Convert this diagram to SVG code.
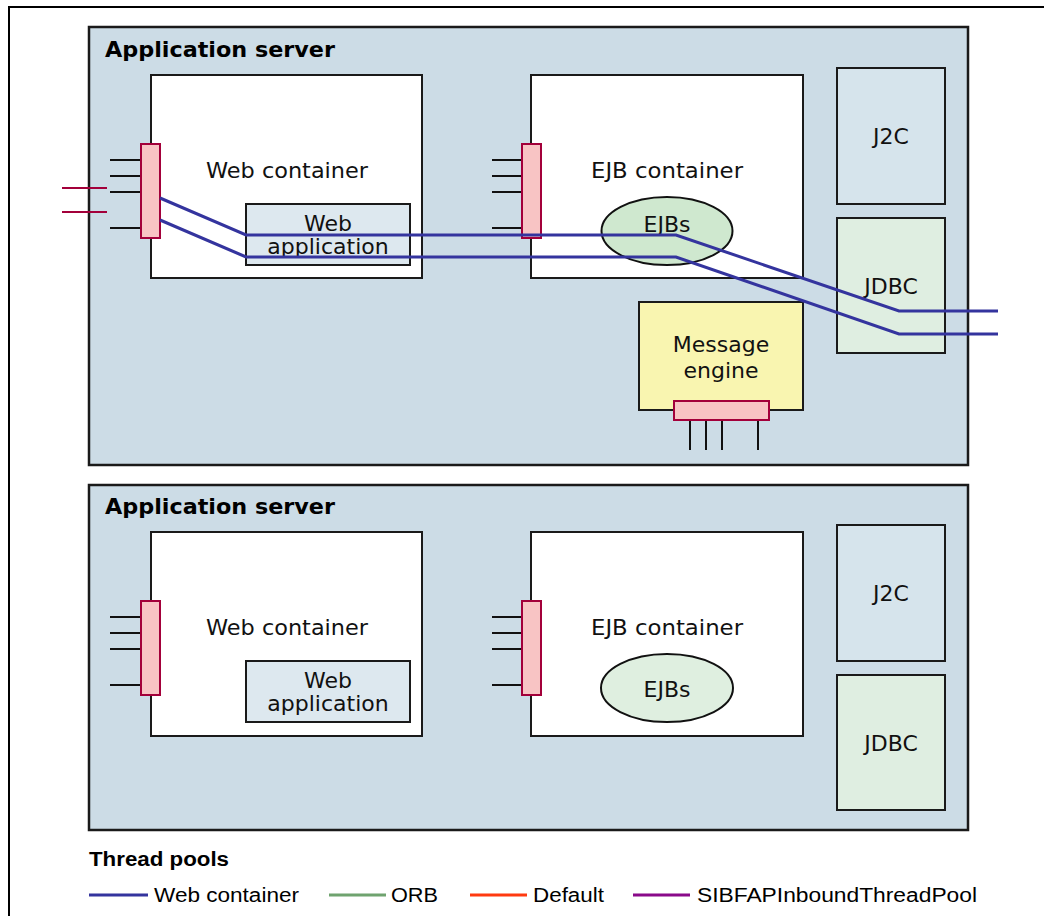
<svg xmlns="http://www.w3.org/2000/svg" width="1044" height="916" viewBox="0 0 1044 916">
<style>
.srv{fill:#ccdce6;stroke:#1a1a1a;stroke-width:2.5}
.cont{fill:#ffffff;stroke:#1a1a1a;stroke-width:2}
.j2c{fill:#d6e4ec;stroke:#1a1a1a;stroke-width:2}
.jdbc{fill:#dfeee1;stroke:#1a1a1a;stroke-width:2}
.webapp{fill:#dde8ef;stroke:#1a1a1a;stroke-width:2}
.me{fill:#f9f5b0;stroke:#1a1a1a;stroke-width:2}
.port{fill:#f8c4c4;stroke:#a3003a;stroke-width:2}
.stub{stroke:#111111;stroke-width:2;fill:none}
.inb{stroke:#a3003a;stroke-width:2;fill:none}
.wc{stroke:#34349e;stroke-width:3;fill:none}
.t{font-family:"DejaVu Sans",Verdana,sans-serif;font-size:22px;fill:#111111;text-anchor:middle}
.title{font-family:"DejaVu Sans",Verdana,sans-serif;font-size:21px;font-weight:bold;fill:#000000}
.lt{font-family:"Liberation Sans",Arial,sans-serif;font-size:20px;fill:#000000}
.lb{font-family:"Liberation Sans",Arial,sans-serif;font-size:20px;font-weight:bold;fill:#000000}
</style>
<path d="M9,916 V7 H1044" fill="none" stroke="#000" stroke-width="2"/>

<g id="server1">
<rect class="srv" x="89" y="27" width="879" height="438"/>
<text class="title" x="105" y="57" textLength="230" lengthAdjust="spacingAndGlyphs">Application server</text>
</g>
<g id="webcontainer1">
<rect class="cont" x="151" y="75" width="271" height="203"/>
<text class="t" x="287" y="178" textLength="162" lengthAdjust="spacingAndGlyphs">Web container</text>
</g>
<g id="webapp1">
<rect class="webapp" x="246" y="204" width="164" height="61"/>
<text class="t" x="328" y="231">Web</text>
<text class="t" x="328" y="254">application</text>
</g>
<g id="ejbcontainer1">
<rect class="cont" x="531" y="75" width="272" height="203"/>
<text class="t" x="667" y="178" textLength="152" lengthAdjust="spacingAndGlyphs">EJB container</text>
</g>
<g id="ejbs1">
<ellipse cx="667" cy="231" rx="65.5" ry="34" fill="#cfe8cf" stroke="#111" stroke-width="2"/>
<text class="t" x="667" y="232">EJBs</text>
</g>
<g id="j2c1">
<rect class="j2c" x="837" y="68" width="108" height="136"/>
<text class="t" x="891" y="144">J2C</text>
</g>
<g id="jdbc1">
<rect class="jdbc" x="837" y="218" width="108" height="135"/>
<text class="t" x="891" y="294">JDBC</text>
</g>
<g id="msgengine">
<rect class="me" x="639" y="302" width="164" height="108"/>
<text class="t" x="721" y="352">Message</text>
<text class="t" x="721" y="378">engine</text>
</g>
<g id="webport1">
<path class="stub" d="M110,160H141M110,176H141M110,192H141M110,228H141"/>
<path class="inb" d="M62,188H107M62,212H107"/>
<rect class="port" x="141" y="144" width="19" height="94"/>
</g>
<g id="ejbport1">
<path class="stub" d="M492,160H522M492,176H522M492,192H522M492,228H522"/>
<rect class="port" x="522" y="144" width="19" height="94"/>
</g>
<g id="meport">
<path class="stub" d="M690,420V450M706,420V450M722,420V450M758,420V450"/>
<rect class="port" x="674" y="401" width="95" height="19"/>
</g>

<g id="connectors">
<polyline class="wc" points="160,198 246,235 676,235 899,311 998,311"/>
<polyline class="wc" points="160,220 246,257 676,257 899,334 998,334"/>
</g>

<g id="server2">
<rect class="srv" x="89" y="485" width="879" height="345"/>
<text class="title" x="105" y="514" textLength="230" lengthAdjust="spacingAndGlyphs">Application server</text>
</g>
<g id="webcontainer2">
<rect class="cont" x="151" y="532" width="271" height="204"/>
<text class="t" x="287" y="635" textLength="162" lengthAdjust="spacingAndGlyphs">Web container</text>
</g>
<g id="webapp2">
<rect class="webapp" x="246" y="661" width="164" height="61"/>
<text class="t" x="328" y="688">Web</text>
<text class="t" x="328" y="711">application</text>
</g>
<g id="ejbcontainer2">
<rect class="cont" x="531" y="532" width="272" height="204"/>
<text class="t" x="667" y="635" textLength="152" lengthAdjust="spacingAndGlyphs">EJB container</text>
</g>
<g id="ejbs2">
<ellipse cx="667" cy="688" rx="66" ry="34" fill="#dfefe0" stroke="#111" stroke-width="2"/>
<text class="t" x="667" y="697">EJBs</text>
</g>
<g id="j2c2">
<rect class="j2c" x="837" y="525" width="108" height="136"/>
<text class="t" x="891" y="601">J2C</text>
</g>
<g id="jdbc2">
<rect class="jdbc" x="837" y="675" width="108" height="135"/>
<text class="t" x="891" y="751">JDBC</text>
</g>
<g id="webport2">
<path class="stub" d="M110,617H141M110,633H141M110,649H141M110,685H141"/>
<rect class="port" x="141" y="601" width="19" height="94"/>
</g>
<g id="ejbport2">
<path class="stub" d="M492,617H522M492,633H522M492,649H522M492,685H522"/>
<rect class="port" x="522" y="601" width="19" height="94"/>
</g>

<g id="legend">
<text class="lb" x="89" y="866" textLength="140" lengthAdjust="spacingAndGlyphs">Thread pools</text>
<line x1="89" y1="895" x2="148" y2="895" stroke="#34349e" stroke-width="3"/>
<text class="lt" x="154" y="902" textLength="145" lengthAdjust="spacingAndGlyphs">Web container</text>
<line x1="329" y1="895" x2="386" y2="895" stroke="#6fa36f" stroke-width="3"/>
<text class="lt" x="391" y="902" textLength="47" lengthAdjust="spacingAndGlyphs">ORB</text>
<line x1="470" y1="895" x2="527" y2="895" stroke="#ff3a10" stroke-width="3"/>
<text class="lt" x="533" y="902" textLength="71" lengthAdjust="spacingAndGlyphs">Default</text>
<line x1="633" y1="895" x2="690" y2="895" stroke="#8a0a8a" stroke-width="3"/>
<text class="lt" x="697" y="902" textLength="280" lengthAdjust="spacingAndGlyphs">SIBFAPInboundThreadPool</text>
</g>
</svg>
